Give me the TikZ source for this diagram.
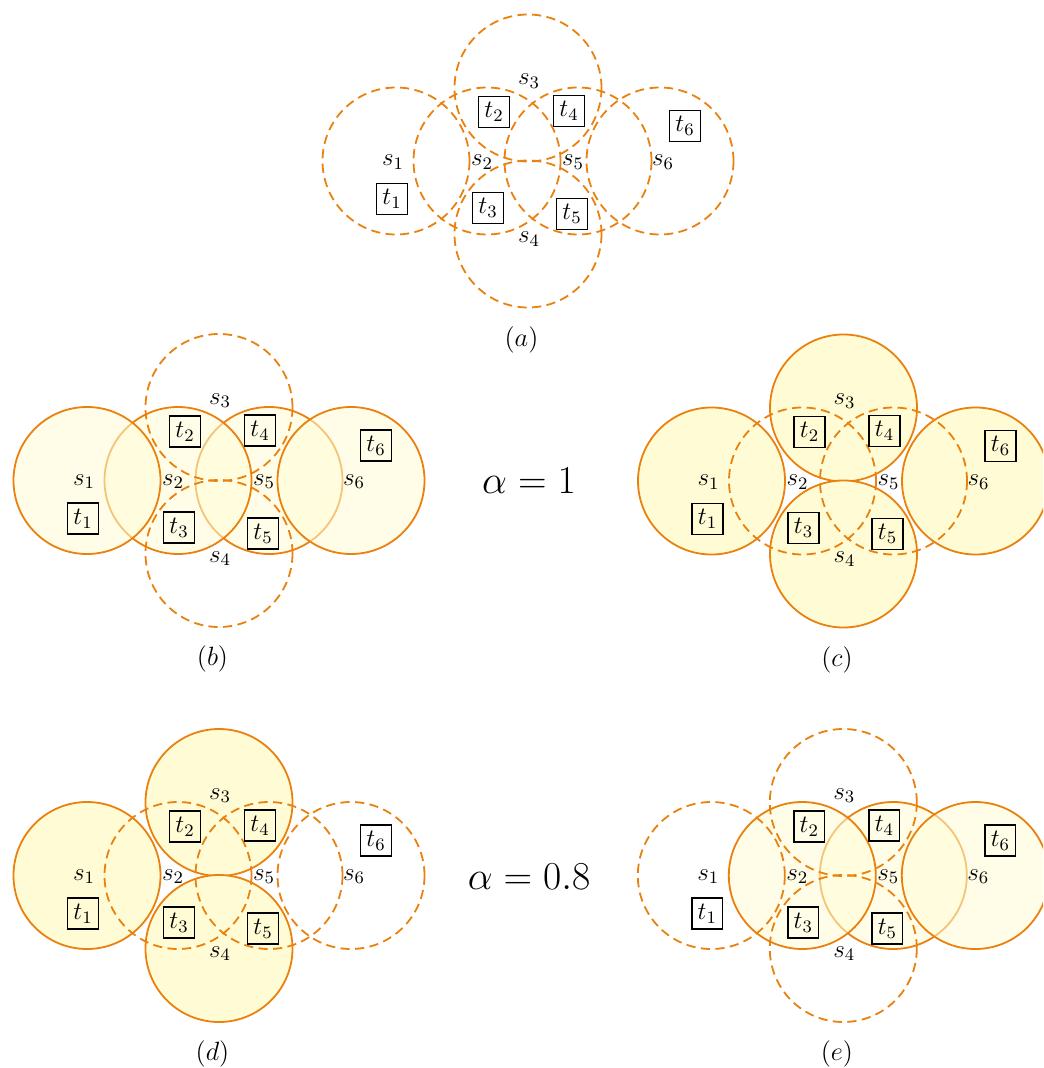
\RequirePackage{fix-cm}
\documentclass[tikz,border=0pt]{standalone}
\usetikzlibrary{calc}
\definecolor{orng}{RGB}{234,128,14}
\definecolor{yfill}{RGB}{255,252,213}
\tikzset{
  solidop/.style={draw=orng, line width=0.9pt, fill=yfill},
  solidtr/.style={draw=orng, line width=0.9pt, fill=yfill, fill opacity=0.55},
  dcirc/.style={draw=orng, line width=0.9pt, dash pattern=on 4.6pt off 2.7pt},
  slab/.style={font=\fontsize{12.5}{15}\selectfont, inner sep=0pt},
  tbox/.style={draw=black, line width=0.65pt, font=\fontsize{12.5}{15}\selectfont, inner sep=0pt,
               minimum width=15.4pt, minimum height=15.4pt},
  capt/.style={font=\fontsize{13.2}{16}\selectfont, inner sep=0pt},
  alab/.style={font=\fontsize{19.8}{24}\selectfont, inner sep=0pt}
}
% circle centres relative to panel centre (px)
\newcommand\circS[3]{% #1 style, #2 which (1..6)
  \ifcase#2\or
    \path[#1] (-132,0) circle[radius=73.5];\or
    \path[#1] (-41,0) circle[radius=73.5];\or
    \path[#1] (0,-73) circle[radius=73.5];\or
    \path[#1] (0,73) circle[radius=73.5];\or
    \path[#1] (50,0) circle[radius=73.5];\or
    \path[#1] (132,0) circle[radius=73.5];\fi}
\newcommand\panelLabels[2]{% #1 prefix, #2 caption
  \node[slab] (#1s1) at (-135,1) {$s_1$};
  \node[slab] (#1s2) at (-46,1) {$s_2$};
  \node[slab] (#1s3) at (1,-80) {$s_3$};
  \node[slab] (#1s4) at (1,78) {$s_4$};
  \node[slab] (#1s5) at (45,1) {$s_5$};
  \node[slab] (#1s6) at (135,1) {$s_6$};
  \node[tbox] (#1t1) at (-136,38) {$t_1$};
  \node[tbox] (#1t2) at (-34,-49) {$t_2$};
  \node[tbox] (#1t3) at (-40,47) {$t_3$};
  \node[tbox] (#1t4) at (41,-50) {$t_4$};
  \node[tbox] (#1t5) at (44,53) {$t_5$};
  \node[tbox] (#1t6) at (157,-35) {$t_6$};
  \node[capt] (#1cap) at (-6.5,178.5) {$(#2)$};}
\begin{document}
\begin{tikzpicture}[x=0.5pt,y=-0.5pt]
\useasboundingbox (0,0) rectangle (1043,1068);
\clip (0,0) rectangle (1043,1068);
% (a)
\begin{scope}[shift={(528,161)}]
  \circS{dcirc}{1}{}\circS{dcirc}{2}{}\circS{dcirc}{3}{}
  \circS{dcirc}{4}{}\circS{dcirc}{5}{}\circS{dcirc}{6}{}
  \panelLabels{a}{a}
\end{scope}
% (b)
\begin{scope}[shift={(219,480.5)}]
  \circS{solidtr}{5}{}\circS{solidtr}{6}{}\circS{solidtr}{2}{}\circS{solidtr}{1}{}
  \circS{dcirc}{3}{}\circS{dcirc}{4}{}
  \panelLabels{b}{b}
\end{scope}
% (c)
\begin{scope}[shift={(843.5,481)}]
  \circS{solidop}{1}{}\circS{solidop}{3}{}\circS{solidop}{4}{}\circS{solidop}{6}{}
  \circS{dcirc}{2}{}\circS{dcirc}{5}{}
  \panelLabels{c}{c}
\end{scope}
% (d)
\begin{scope}[shift={(219,875.5)}]
  \circS{solidop}{1}{}\circS{solidop}{3}{}\circS{solidop}{4}{}
  \circS{dcirc}{2}{}\circS{dcirc}{5}{}\circS{dcirc}{6}{}
  \panelLabels{d}{d}
\end{scope}
% (e)
\begin{scope}[shift={(843.3,875.5)}]
  \circS{solidtr}{5}{}\circS{solidtr}{2}{}\circS{solidtr}{6}{}
  \circS{dcirc}{1}{}\circS{dcirc}{3}{}\circS{dcirc}{4}{}
  \panelLabels{e}{e}
\end{scope}
\node[alab] (alpha1) at (529,481) {$\alpha = 1$};
\node[alab] (alpha2) at (529,877) {$\alpha = 0.8$};
\end{tikzpicture}
\end{document}
